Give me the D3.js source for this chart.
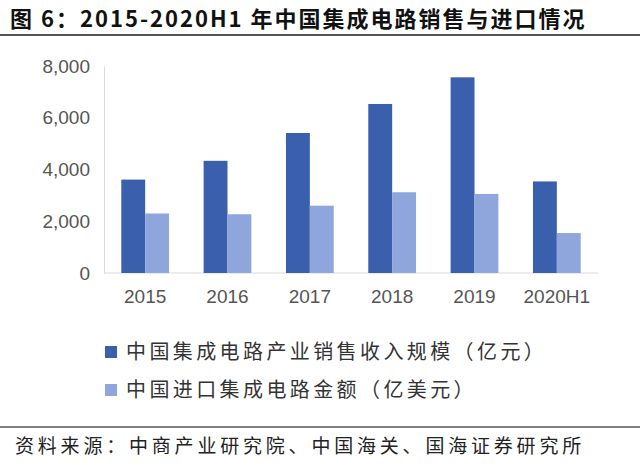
<!DOCTYPE html>
<html><head><meta charset="utf-8">
<script src="https://cdn.jsdelivr.net/npm/d3@7"></script>
<style>body{margin:0;background:#fff}</style>
</head><body><div id="chart"></div>
<script>
const years = ["2015", "2016", "2017", "2018", "2019", "2020H1"];
const sales = [3610, 4336, 5411, 6532, 7562, 3539];
const imports = [2300, 2270, 2601, 3121, 3055, 1545];
const seriesNames = ["中国集成电路产业销售收入规模（亿元）", "中国进口集成电路金额（亿美元）"];
const colors = ["#3a5fad", "#8fa6dc"];
const yTicks = [0, 2000, 4000, 6000, 8000];

(function () {
const W = 640, H = 466;
const svg = d3.select("#chart").append("svg").attr("width", W).attr("height", H);
const cjk = "'Noto Sans CJK SC', sans-serif";

svg.append("text").attr("x", 10).attr("y", 27)
  .attr("font-family", cjk).attr("font-weight", "bold").attr("font-size", 22)
  .attr("letter-spacing", 2)
  .attr("fill", "#111").text("图 6：2015-2020H1 年中国集成电路销售与进口情况");
svg.append("line").attr("x1", 0).attr("x2", W).attr("y1", 35).attr("y2", 35)
  .attr("stroke", "#555").attr("stroke-width", 2);

const pL = 104, pR = 598, pT = 66, pB = 273;
const x = d3.scaleBand().domain(years).range([pL, pR]).paddingInner(0.42).paddingOuter(0.21);
const x1 = d3.scaleBand().domain([0, 1]).range([0, x.bandwidth()]);
const y = d3.scaleLinear().domain([0, 8000]).range([pB, pT]);

const ya = svg.append("g").attr("transform", `translate(${pL},0)`)
  .call(d3.axisLeft(y).tickValues(yTicks).tickFormat(d3.format(",")).tickSize(0).tickPadding(14));
ya.select(".domain").attr("stroke", "#d9d9d9");
ya.selectAll("text").attr("font-family", "'Liberation Sans', Arial").attr("font-size", 19).attr("fill", "#555");

const xa = svg.append("g").attr("transform", `translate(0,${pB})`)
  .call(d3.axisBottom(x).tickSize(0).tickPadding(17));
xa.select(".domain").attr("stroke", "#d9d9d9").attr("d", `M${pL},0H${pR}`);
xa.selectAll("text").attr("font-family", "'Liberation Sans', Arial").attr("font-size", 19).attr("fill", "#555");

[sales, imports].forEach((vals, i) => {
  svg.append("g").selectAll("rect").data(vals).join("rect")
    .attr("x", (d, j) => x(years[j]) + x1(i))
    .attr("width", x1.bandwidth())
    .attr("y", d => y(d))
    .attr("height", d => y(0) - y(d))
    .attr("fill", colors[i]);
});

seriesNames.forEach((n, i) => {
  const ly = 352 + i * 38;
  svg.append("rect").attr("x", 105).attr("y", ly - 6).attr("width", 12).attr("height", 12).attr("fill", colors[i]);
  svg.append("text").attr("x", 126).attr("y", ly + 7).attr("font-family", cjk)
    .attr("font-size", 20).attr("letter-spacing", 3.4).attr("fill", "#333").text(n);
});

svg.append("line").attr("x1", 0).attr("x2", W).attr("y1", 427).attr("y2", 427)
  .attr("stroke", "#555").attr("stroke-width", 1.5);
svg.append("text").attr("x", 15).attr("y", 453).attr("font-family", cjk)
  .attr("font-size", 19).attr("letter-spacing", 3.8).attr("fill", "#222").text("资料来源：中商产业研究院、中国海关、国海证券研究所");
})();
</script></body></html>
